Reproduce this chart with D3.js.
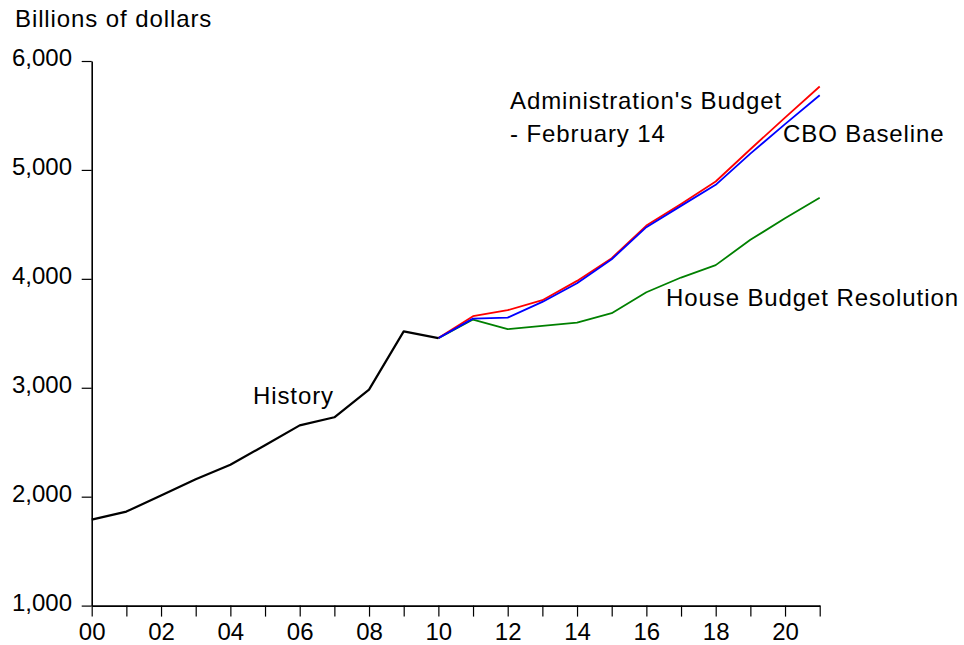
<!DOCTYPE html>
<html>
<head>
<meta charset="utf-8">
<script src="https://cdn.jsdelivr.net/npm/d3@7"></script>
<style>
  html, body { margin: 0; padding: 0; background: #fff; }
  svg { display: block; }
  text { font-family: "Liberation Sans", Arial, sans-serif; fill: #000; }
</style>
</head>
<body>
<svg id="chart" width="964" height="645"></svg>
<script>
// ---- Data ----
const historyYears = [2000, 2001, 2002, 2003, 2004, 2005, 2006, 2007, 2008, 2009, 2010];
const historyValues = [1789, 1863, 2011, 2160, 2293, 2472, 2655, 2729, 2983, 3518, 3456];

const projYears = [2010, 2011, 2012, 2013, 2014, 2015, 2016, 2017, 2018, 2019, 2020, 2021];
const adminValues = [3456, 3657, 3712, 3804, 3981, 4190, 4489, 4688, 4894, 5190, 5480, 5766];
const cboValues   = [3456, 3635, 3644, 3788, 3960, 4180, 4474, 4670, 4863, 5150, 5420, 5686];
const houseValues = [3456, 3626, 3538, 3568, 3598, 3685, 3877, 4012, 4126, 4358, 4557, 4745];

const xTickYears = d3.range(2000, 2022);
const yTickValues = [1000, 2000, 3000, 4000, 5000, 6000];

const yAxisTitle = "Billions of dollars";
const labels = [
  { text: "Administration's Budget", x: 510, y: 109 },
  { text: "- February 14", x: 510, y: 142 },
  { text: "CBO Baseline", x: 783, y: 142 },
  { text: "House Budget Resolution", x: 666, y: 306 },
  { text: "History", x: 253, y: 404 }
];

// ---- Layout ----
const svg = d3.select("#chart");
const x = d3.scaleLinear().domain([2000, 2021]).range([91.7, 819.7]);
const y = d3.scaleLinear().domain([1000, 6000]).range([605.6, 61]);

const FS = 24, LS = 0.9;

// Axes
const xAxis = d3.axisBottom(x)
  .tickValues(xTickYears)
  .tickSize(11)
  .tickSizeOuter(0)
  .tickFormat(d => d % 2 === 0 ? String(d % 100).padStart(2, "0") : "");
const gx = svg.append("g").attr("transform", `translate(0,${y(1000)})`).call(xAxis);
gx.select(".domain").attr("stroke", "#000").attr("stroke-width", 1.6);
gx.selectAll(".tick line").attr("stroke", "#000").attr("stroke-width", 1.2);
gx.selectAll(".tick text")
  .attr("y", 17)
  .attr("dy", "0.71em")
  .style("font-size", FS + "px")
  .style("font-family", '"Liberation Sans", Arial, sans-serif')
  .attr("fill", "#000");

const yAxis = d3.axisLeft(y)
  .tickValues(yTickValues)
  .tickSize(10)
  .tickSizeOuter(0)
  .tickFormat(d3.format(","));
const gy = svg.append("g").attr("transform", `translate(${x(2000)},0)`).call(yAxis);
gy.select(".domain").attr("stroke", "#000").attr("stroke-width", 1.6);
gy.selectAll(".tick line").attr("stroke", "#000").attr("stroke-width", 1.2);
gy.selectAll(".tick text")
  .attr("x", -19.7)
  .attr("dy", "0.2em")
  .style("font-size", FS + "px")
  .style("font-family", '"Liberation Sans", Arial, sans-serif')
  .attr("fill", "#000");

// Y-axis title
svg.append("text")
  .attr("x", 15).attr("y", 27)
  .style("font-size", FS + "px")
  .style("letter-spacing", LS + "px")
  .text(yAxisTitle);

// Lines
const line = d3.line().x(d => x(d[0])).y(d => y(d[1]));
function drawSeries(years, values, color, width) {
  svg.append("path")
    .datum(years.map((yr, i) => [yr, values[i]]))
    .attr("fill", "none")
    .attr("stroke", color)
    .attr("stroke-width", width)
    .attr("stroke-linejoin", "round")
    .attr("d", line);
}
drawSeries(projYears, houseValues, "#008000", 1.8);
drawSeries(projYears, adminValues, "#ff0000", 1.8);
drawSeries(projYears, cboValues, "#0000ff", 1.8);
drawSeries(historyYears, historyValues, "#000000", 2.2);

// Annotations
svg.selectAll("text.lbl")
  .data(labels)
  .enter().append("text")
  .attr("class", "lbl")
  .attr("x", d => d.x)
  .attr("y", d => d.y)
  .style("font-size", FS + "px")
  .style("letter-spacing", LS + "px")
  .text(d => d.text);
</script>
</body>
</html>
